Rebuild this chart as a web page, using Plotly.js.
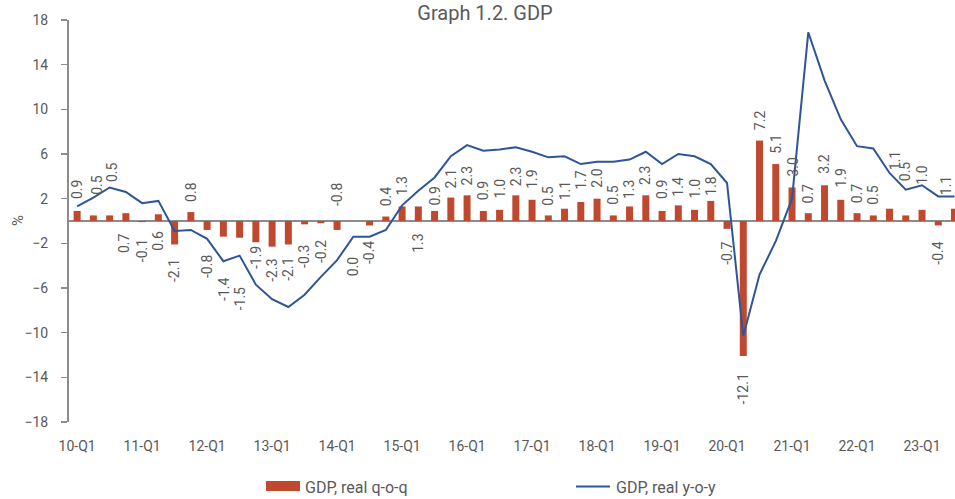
<!DOCTYPE html>
<html>
<head>
<meta charset="utf-8">
<script src="https://cdn.plot.ly/plotly-3.0.1.min.js"></script>
<style>html,body{margin:0;padding:0;background:#fff;}#chart{width:955px;height:499px;}</style>
</head>
<body>
<div id="chart"></div>
<script>
// ---- data ----
const quarters = ['10-Q1','10-Q2','10-Q3','10-Q4','11-Q1','11-Q2','11-Q3','11-Q4','12-Q1','12-Q2','12-Q3','12-Q4',
  '13-Q1','13-Q2','13-Q3','13-Q4','14-Q1','14-Q2','14-Q3','14-Q4','15-Q1','15-Q2','15-Q3','15-Q4',
  '16-Q1','16-Q2','16-Q3','16-Q4','17-Q1','17-Q2','17-Q3','17-Q4','18-Q1','18-Q2','18-Q3','18-Q4',
  '19-Q1','19-Q2','19-Q3','19-Q4','20-Q1','20-Q2','20-Q3','20-Q4','21-Q1','21-Q2','21-Q3','21-Q4',
  '22-Q1','22-Q2','22-Q3','22-Q4','23-Q1','23-Q2','23-Q3'];
const gdpQoq = [0.9,0.5,0.5,0.7,-0.1,0.6,-2.1,0.8,-0.8,-1.4,
  -1.5,-1.9,-2.3,-2.1,-0.3,-0.2,-0.8,0.0,-0.4,0.4,
  1.3,1.3,0.9,2.1,2.3,0.9,1.0,2.3,1.9,0.5,
  1.1,1.7,2.0,0.5,1.3,2.3,0.9,1.4,1.0,1.8,
  -0.7,-12.1,7.2,5.1,3.0,0.7,3.2,1.9,0.7,0.5,
  1.1,0.5,1.0,-0.4,1.1];
const gdpYoy = [1.3,2.1,3.0,2.6,1.6,1.8,-0.9,-0.8,-1.6,-3.6,
  -3.1,-5.7,-7.0,-7.7,-6.6,-5.0,-3.5,-1.4,-1.4,-0.8,
  1.4,2.7,3.9,5.8,6.8,6.3,6.4,6.6,6.2,5.7,
  5.8,5.1,5.3,5.3,5.5,6.2,5.1,6.0,5.8,5.1,
  3.4,-10.3,-4.8,-1.8,2.0,16.9,12.6,9.1,6.7,6.5,
  4.3,2.8,3.2,2.2,2.2];
const tickQuarters = ['10-Q1','11-Q1','12-Q1','13-Q1','14-Q1','15-Q1','16-Q1','17-Q1','18-Q1','19-Q1','20-Q1','21-Q1','22-Q1','23-Q1'];
const seriesNames = ['GDP, real q-o-q', 'GDP, real y-o-y'];
const titleText = 'Graph 1.2. GDP';

// ---- label placement (px offsets of label centre from bar end; style only) ----
const labelShift = [21,31,43,-30,-29,-26,-26,20,-37,-53,
  -61,-15,-24,-25,-32,-28,35,-45,-27,20,
  20,-37,15,19,19,20,21,19,20,20,
  18,22,21,21,17,20,21,19,21,15,
  -25,-33,20,20,21,20,21,22,20,21,
  48,44,35,-28,23];
const labelXShift = [0,4,3,-2,0,0,0,0,0,0, 0,0,0,0,0,0,0,0,0,0, 0,0,0,0,0,0,0,0,0,0,
  0,0,0,0,0,0,0,0,0,0, 0,0,0,0,0,0,0,0,0,0, 5,0,0,0,-9];

// ---- styling ----
const W = 955, H = 499, ML = 69, MR = 0, MT = 20, MB = 77;
const PW = W - ML - MR, PH = H - MT - MB;
const px2x = p => (p - ML) / PW;
const py2y = p => (H - MB - p) / PH;
const TXT = '#595959', GRAY = '#8c8c8c', RED = '#c0482f', BLUE = '#2f5597';
const FONT = 'Roboto, "Open Sans", sans-serif';

const traces = [
  {type:'bar', x:quarters, y:gdpQoq, name:seriesNames[0], marker:{color:RED}, width:0.43,
   showlegend:false, hoverinfo:'x+y'},
  {type:'scatter', mode:'lines', x:quarters, y:gdpYoy, name:seriesNames[1],
   line:{color:BLUE, width:2}, showlegend:false, hoverinfo:'x+y'}
];

const annotations = gdpQoq.map((v, i) => ({
  x: quarters[i], y: v, xref:'x', yref:'y', text: v.toFixed(1), showarrow:false,
  textangle:-90, xanchor:'center', yanchor:'middle', yshift: labelShift[i], xshift: labelXShift[i],
  font:{family:FONT, size:14, color:TXT}
}));
// y-axis unit label
annotations.push({xref:'paper', yref:'paper', x:px2x(18), y:0.5, text:'%', showarrow:false,
  textangle:-90, xanchor:'center', yanchor:'middle', font:{family:FONT, size:15, color:TXT}});
// legend texts
annotations.push({xref:'paper', yref:'paper', x:px2x(303), y:py2y(487), text:seriesNames[0], showarrow:false,
  xanchor:'left', yanchor:'middle', font:{family:FONT, size:16, color:TXT}});
annotations.push({xref:'paper', yref:'paper', x:px2x(614), y:py2y(487), text:seriesNames[1], showarrow:false,
  xanchor:'left', yanchor:'middle', font:{family:FONT, size:16, color:TXT}});

const shapes = [
  {type:'rect', xref:'paper', yref:'paper', x0:px2x(266), x1:px2x(300), y0:py2y(491), y1:py2y(481),
   fillcolor:RED, line:{width:0}},
  {type:'line', xref:'paper', yref:'paper', x0:px2x(576), x1:px2x(610), y0:py2y(486.5), y1:py2y(486.5),
   line:{color:BLUE, width:2}}
];

const layout = {
  width:W, height:H, margin:{l:ML, r:MR, t:MT, b:MB, pad:0},
  paper_bgcolor:'#fff', plot_bgcolor:'#fff',
  font:{family:FONT, color:TXT, size:14},
  title:{text:titleText, font:{family:FONT, size:20, color:TXT}, xref:'container', yref:'container',
    x:485/W, xanchor:'center', y:1-13/H, yanchor:'middle'},
  showlegend:false,
  bargap:0.57,
  xaxis:{type:'category', range:[-0.5, 54.03], tickmode:'array', tickvals:tickQuarters, ticktext:tickQuarters,
    showgrid:false, showline:false, zeroline:false, ticks:'', ticklabelstandoff:14,
    tickfont:{family:FONT, size:14, color:TXT}, fixedrange:true},
  yaxis:{range:[-18,18], tickmode:'linear', tick0:-18, dtick:4, showgrid:false,
    showline:true, linecolor:GRAY, linewidth:2, ticks:'outside', ticklen:6, tickwidth:1.5, tickcolor:GRAY,
    zeroline:true, zerolinecolor:GRAY, zerolinewidth:2.5, ticklabelstandoff:10,
    tickfont:{family:FONT, size:14, color:TXT}, fixedrange:true},
  annotations:annotations,
  shapes:shapes
};

Plotly.newPlot('chart', traces, layout, {displayModeBar:false, staticPlot:true});
</script>
</body>
</html>
